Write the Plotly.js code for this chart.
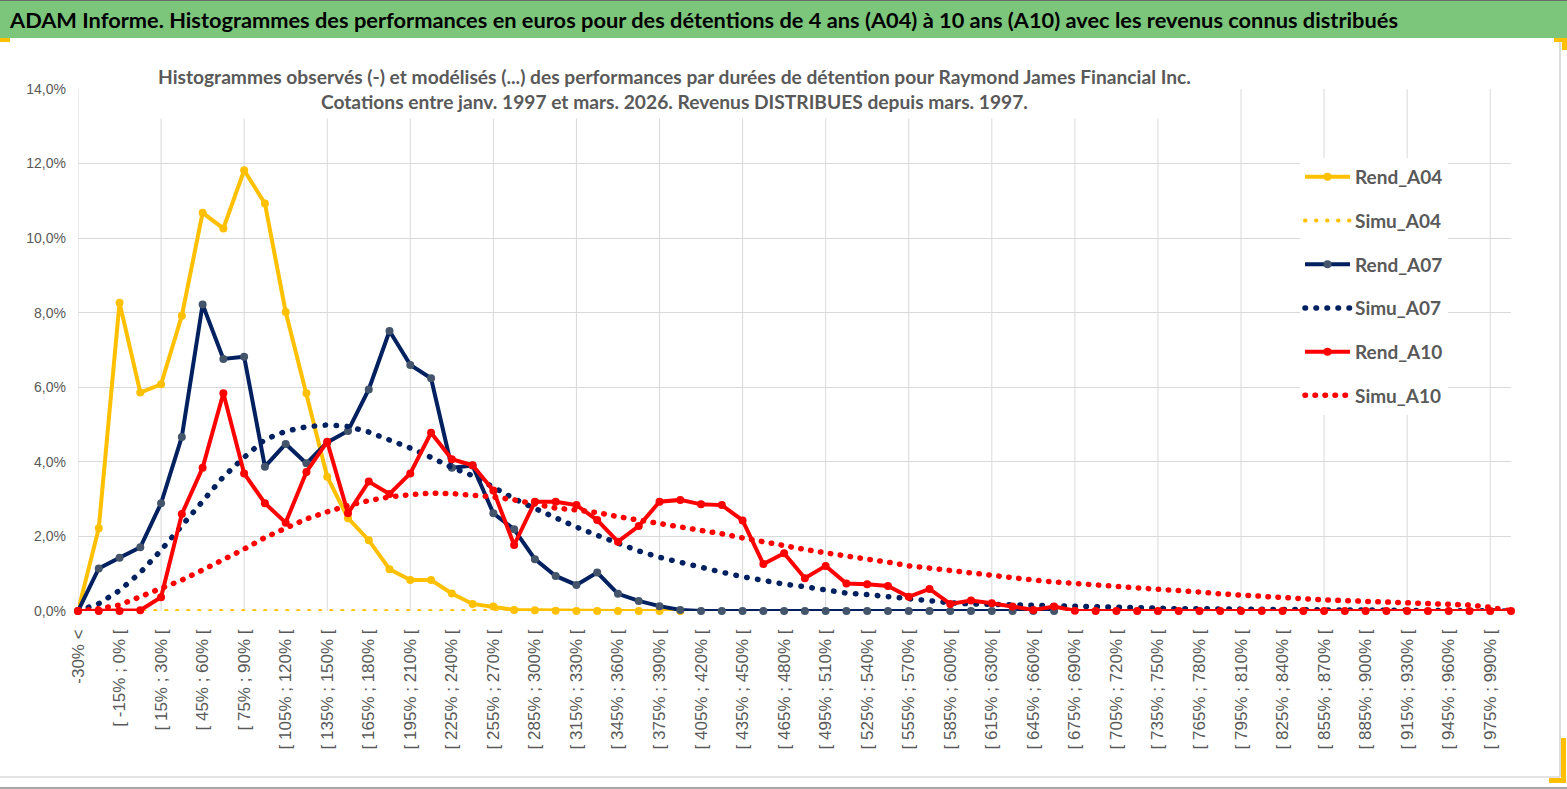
<!DOCTYPE html>
<html><head><meta charset="utf-8">
<script src="https://cdn.plot.ly/plotly-3.0.1.min.js"></script>
<style>html,body{margin:0;padding:0;background:#fff}#chart{width:1567px;height:789px}</style>
</head><body><div id="chart"></div><script>
const categories = ["-30% <",
"[ -30% ; -15% [","[ -15% ; 0% [","[ 0% ; 15% [","[ 15% ; 30% [","[ 30% ; 45% [","[ 45% ; 60% [","[ 60% ; 75% [","[ 75% ; 90% [",
"[ 90% ; 105% [","[ 105% ; 120% [","[ 120% ; 135% [","[ 135% ; 150% [","[ 150% ; 165% [","[ 165% ; 180% [","[ 180% ; 195% [","[ 195% ; 210% [",
"[ 210% ; 225% [","[ 225% ; 240% [","[ 240% ; 255% [","[ 255% ; 270% [","[ 270% ; 285% [","[ 285% ; 300% [","[ 300% ; 315% [","[ 315% ; 330% [",
"[ 330% ; 345% [","[ 345% ; 360% [","[ 360% ; 375% [","[ 375% ; 390% [","[ 390% ; 405% [","[ 405% ; 420% [","[ 420% ; 435% [","[ 435% ; 450% [",
"[ 450% ; 465% [","[ 465% ; 480% [","[ 480% ; 495% [","[ 495% ; 510% [","[ 510% ; 525% [","[ 525% ; 540% [","[ 540% ; 555% [","[ 555% ; 570% [",
"[ 570% ; 585% [","[ 585% ; 600% [","[ 600% ; 615% [","[ 615% ; 630% [","[ 630% ; 645% [","[ 645% ; 660% [","[ 660% ; 675% [","[ 675% ; 690% [",
"[ 690% ; 705% [","[ 705% ; 720% [","[ 720% ; 735% [","[ 735% ; 750% [","[ 750% ; 765% [","[ 765% ; 780% [","[ 780% ; 795% [","[ 795% ; 810% [",
"[ 810% ; 825% [","[ 825% ; 840% [","[ 840% ; 855% [","[ 855% ; 870% [","[ 870% ; 885% [","[ 885% ; 900% [","[ 900% ; 915% [","[ 915% ; 930% [",
"[ 930% ; 945% [","[ 945% ; 960% [","[ 960% ; 975% [","[ 975% ; 990% [","990% >"];

const yTickVals = [0, 2, 4, 6, 8, 10, 12, 14];
const yTickText = ["0,0%", "2,0%", "4,0%", "6,0%", "8,0%", "10,0%", "12,0%", "14,0%"];

// values in %
const rendA04 = [0, 2.22, 8.27, 5.86, 6.08, 7.92, 10.68, 10.26, 11.82, 10.93, 8.02, 5.84, 3.60, 2.49, 1.90, 1.12, 0.83, 0.83, 0.47, 0.19,
  0.12, 0.03, 0.02, 0.01, 0, 0, 0, 0, 0, 0];
const simuA04 = [0, 0, 0, 0, 0, 0, 0, 0, 0, 0, 0, 0, 0, 0, 0, 0, 0, 0, 0, 0, 0, 0, 0, 0, 0, 0, 0, 0, 0, 0];
const rendA07 = [0, 1.14, 1.43, 1.71, 2.89, 4.67, 8.22, 6.76, 6.82, 3.87, 4.48, 3.96, 4.52, 4.83, 5.94, 7.51, 6.60, 6.24, 3.84, 3.90,
  2.62, 2.19, 1.39, 0.94, 0.70, 1.03, 0.46, 0.27, 0.13, 0.03, 0, 0, 0, 0, 0, 0, 0, 0, 0, 0,
  0, 0, 0, 0, 0, 0, 0, 0];
const simuA07 = [0, 0.20, 0.55, 1.03, 1.63, 2.28, 2.97, 3.60, 4.12, 4.60, 4.82, 4.94, 4.99, 4.95, 4.80, 4.60, 4.37, 4.12, 3.85, 3.63,
  3.30, 3.01, 2.75, 2.49, 2.25, 2.03, 1.82, 1.61, 1.44, 1.30, 1.17, 1.04, 0.92, 0.81, 0.72, 0.65, 0.55, 0.48, 0.44, 0.38,
  0.33, 0.27, 0.22, 0.19, 0.17, 0.16, 0.15, 0.14, 0.13, 0.11, 0.10, 0.08, 0.07, 0.06, 0.06, 0.05, 0.05, 0.04, 0.04, 0.03,
  0.03, 0.03, 0.02, 0.02, 0.02, 0.02, 0.01, 0.01, 0.01, 0];
const rendA10 = [0, 0, 0, 0.02, 0.37, 2.60, 3.84, 5.84, 3.69, 2.89, 2.37, 3.73, 4.54, 2.62, 3.47, 3.14, 3.69, 4.78, 4.07, 3.91,
  3.23, 1.77, 2.93, 2.93, 2.84, 2.44, 1.86, 2.28, 2.93, 2.98, 2.86, 2.84, 2.43, 1.26, 1.55, 0.88, 1.21, 0.74, 0.72, 0.67,
  0.38, 0.59, 0.19, 0.28, 0.21, 0.12, 0.03, 0.12, 0.01, 0, 0, 0, 0, 0, 0, 0, 0, 0, 0, 0,
  0, 0, 0, 0, 0, 0, 0, 0, 0, 0];
const simuA10 = [0, 0.06, 0.16, 0.38, 0.58, 0.83, 1.10, 1.37, 1.66, 1.97, 2.24, 2.47, 2.66, 2.83, 2.96, 3.06, 3.12, 3.16, 3.15, 3.11,
  3.06, 2.98, 2.86, 2.76, 2.71, 2.64, 2.53, 2.44, 2.35, 2.26, 2.18, 2.07, 1.96, 1.85, 1.73, 1.65, 1.56, 1.46, 1.39, 1.31,
  1.21, 1.15, 1.08, 1.02, 0.95, 0.89, 0.83, 0.78, 0.75, 0.71, 0.66, 0.62, 0.59, 0.55, 0.51, 0.46, 0.42, 0.38, 0.35, 0.33,
  0.30, 0.28, 0.26, 0.24, 0.23, 0.21, 0.19, 0.16, 0.10, 0];

const YELLOW = '#FFC000', NAVY = '#002060', NAVYMK = '#44546A', RED = '#FF0000';
const HUM = 'Lato, "Open Sans", sans-serif';
const GREY = '#595959';

function xs(arr) { return categories.slice(0, arr.length); }

const traces = [
  {name: 'Rend_A04', x: xs(rendA04), y: rendA04, mode: 'lines+markers', legendgroup: 'g1',
   line: {color: YELLOW, width: 4}, marker: {color: YELLOW, size: 8}, cliponaxis: false},
  {name: 'Simu_A04', x: xs(simuA04), y: simuA04, mode: 'lines', legendgroup: 'g2',
   line: {color: YELLOW, width: 4, dash: '0.5px,10.5px'}, cliponaxis: false},
  {name: 'Rend_A07', x: xs(rendA07), y: rendA07, mode: 'lines+markers', legendgroup: 'g3',
   line: {color: NAVY, width: 4}, marker: {color: NAVYMK, size: 8}, cliponaxis: false},
  {name: 'Simu_A07', x: xs(simuA07), y: simuA07, mode: 'lines', legendgroup: 'g4',
   line: {color: NAVY, width: 5.5, dash: '0.5px,10.5px'}, cliponaxis: false},
  {name: 'Rend_A10', x: xs(rendA10), y: rendA10, mode: 'lines+markers', legendgroup: 'g5',
   line: {color: RED, width: 4}, marker: {color: RED, size: 8}, cliponaxis: false},
  {name: 'Simu_A10', x: xs(simuA10), y: simuA10, mode: 'lines', legendgroup: 'g6',
   line: {color: RED, width: 5.5, dash: '0.5px,9.5px'}, cliponaxis: false}
];

// pixel helpers for decoration placement
const PL = 78, PR = 1511, PT = 89, PB = 611;
const px = v => (v - PL) / (PR - PL);
const py = v => (PB - v) / (PB - PT);

const shapes = [];
for (let i = 0; i < categories.length; i += 4) {
  shapes.push({type: 'line', xref: 'x', yref: 'y', x0: i, x1: i, y0: 0, y1: 14, layer: 'below',
    line: {color: '#d9d9d9', width: 1}});
}
// header band
shapes.push({type: 'rect', xref: 'paper', yref: 'paper', x0: px(0), x1: px(1567), y0: py(38), y1: py(0),
  fillcolor: '#7cc67c', line: {width: 0}, layer: 'below'});
shapes.push({type: 'line', xref: 'paper', yref: 'paper', x0: px(0), x1: px(1567), y0: py(0.5), y1: py(0.5),
  line: {color: '#6a6a6a', width: 1}});
// chart border
shapes.push({type: 'line', xref: 'paper', yref: 'paper', x0: px(1560), x1: px(1560), y0: py(40), y1: py(777),
  line: {color: '#d0d0d0', width: 1.5}});
shapes.push({type: 'line', xref: 'paper', yref: 'paper', x0: px(0), x1: px(1560), y0: py(777), y1: py(777),
  line: {color: '#d9d9d9', width: 1.5}});
shapes.push({type: 'line', xref: 'paper', yref: 'paper', x0: px(0), x1: px(1567), y0: py(788), y1: py(788),
  line: {color: '#8a8a8a', width: 1.5}});
// yellow accents
shapes.push({type: 'rect', xref: 'paper', yref: 'paper', x0: px(0), x1: px(10), y0: py(42), y1: py(38),
  fillcolor: YELLOW, line: {width: 0}});
shapes.push({type: 'rect', xref: 'paper', yref: 'paper', x0: px(1554), x1: px(1567), y0: py(42), y1: py(38),
  fillcolor: YELLOW, line: {width: 0}});
shapes.push({type: 'rect', xref: 'paper', yref: 'paper', x0: px(1562), x1: px(1567), y0: py(50), y1: py(38),
  fillcolor: YELLOW, line: {width: 0}});
shapes.push({type: 'rect', xref: 'paper', yref: 'paper', x0: px(1561), x1: px(1566), y0: py(783), y1: py(738),
  fillcolor: YELLOW, line: {width: 0}});
shapes.push({type: 'rect', xref: 'paper', yref: 'paper', x0: px(1549), x1: px(1566), y0: py(783), y1: py(778),
  fillcolor: YELLOW, line: {width: 0}});

const xTickVals = categories.filter((c, i) => i % 2 === 0 && i < 69);

const layout = {
  width: 1567, height: 789,
  margin: {l: PL, r: 1567 - PR, t: PT, b: 789 - PB, pad: 0},
  paper_bgcolor: '#ffffff', plot_bgcolor: '#ffffff',
  showlegend: true,
  title: {text: 'ADAM Informe. Histogrammes des performances en euros pour des détentions de 4 ans (A04) à 10 ans (A10) avec les revenus connus distribués',
    xref: 'container', yref: 'container', x: 10 / 1567, xanchor: 'left', y: 1 - 20 / 789, yanchor: 'middle',
    font: {family: HUM, size: 21.8, color: '#000000', weight: 'bold'}},
  xaxis: {type: 'category', categoryorder: 'array', categoryarray: categories, range: [0, 69],
    tickmode: 'array', tickvals: xTickVals, ticktext: xTickVals, tickangle: -90,
    showgrid: false, zeroline: false, showline: false, ticks: '', ticklabelstandoff: 14,
    automargin: false, fixedrange: true,
    tickfont: {family: '"Liberation Sans", Arial, sans-serif', size: 17, color: GREY}},
  yaxis: {range: [0, 14], tickmode: 'array', tickvals: yTickVals, ticktext: yTickText,
    showgrid: true, gridcolor: '#d9d9d9', gridwidth: 1, zeroline: false, showline: false, ticks: '',
    ticklabelstandoff: 11, automargin: false, fixedrange: true,
    tickfont: {family: '"Liberation Sans", Arial, sans-serif', size: 14, color: GREY}},
  legend: {x: px(1300), y: py(158), xanchor: 'left', yanchor: 'top', bgcolor: '#ffffff',
    traceorder: 'grouped', tracegroupgap: 16, itemwidth: 45,
    font: {family: HUM, size: 19, color: GREY, weight: 'bold'}},
  annotations: [{xref: 'paper', yref: 'paper', x: px(674), y: py(89), xanchor: 'center', yanchor: 'middle',
    showarrow: false, bgcolor: '#ffffff', borderpad: 5,
    text: 'Histogrammes observés (-) et modélisés (...) des performances par durées de détention pour Raymond James Financial Inc.<br>Cotations entre janv. 1997 et mars. 2026. Revenus DISTRIBUES depuis mars. 1997.',
    font: {family: HUM, size: 19.2, color: GREY, weight: 'bold'}}],
  shapes: shapes
};

Plotly.newPlot('chart', traces, layout, {displayModeBar: false, staticPlot: true}).then(function (gd) {
  // round dot ends for the dotted (modelled) series, like the original round-dot style
  gd.querySelectorAll('path.js-line, .legendlines path').forEach(function (p) {
    const d = p.style.strokeDasharray;
    if (d && d !== 'none' && d !== '') p.style.strokeLinecap = 'round';
  });
});
</script></body></html>
